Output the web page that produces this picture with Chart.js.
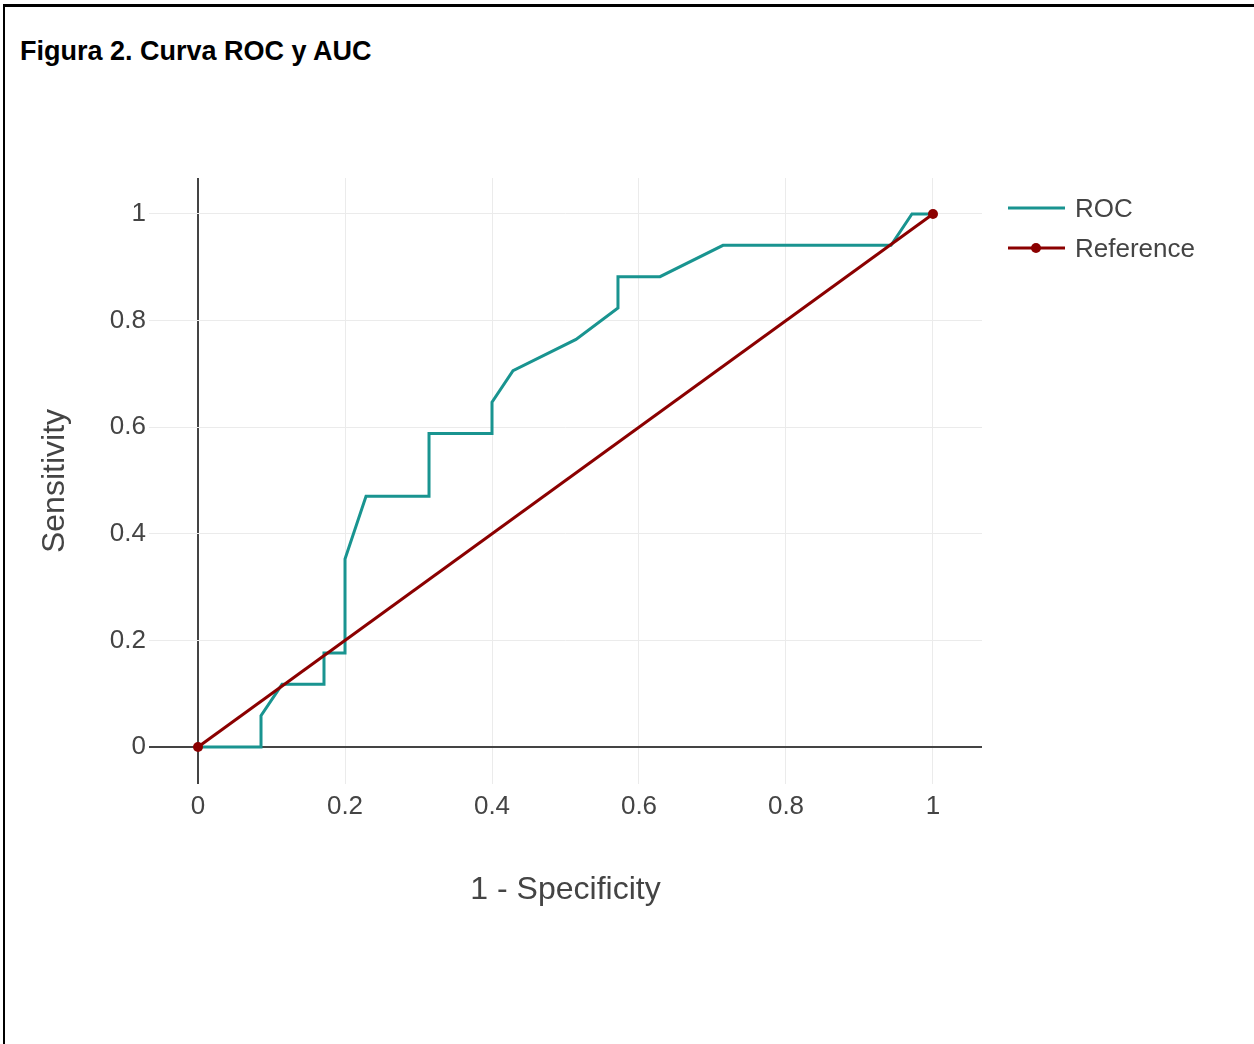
<!DOCTYPE html>
<html>
<head>
<meta charset="utf-8">
<script src="https://cdn.jsdelivr.net/npm/chart.js@4.4.1/dist/chart.umd.min.js"></script>
<style>
  body { margin: 0; background: #fff; }
  #frame { position: absolute; left: 3px; top: 4px; width: 1260px; height: 1050px;
           border-left: 2px solid #000; border-top: 3px solid #000; }
  #title { position: absolute; left: 20px; top: 36px; font: bold 27px "Liberation Sans", Arial, sans-serif; color: #000; }
  #chart { position: absolute; left: 0; top: 0; }
  #legend { position: absolute; left: 1008px; top: 188px; font: 26px "Liberation Sans", Arial, sans-serif; color: #444; }
  .item { display: flex; align-items: center; height: 40px; }
  .item svg { margin-right: 10px; }
</style>
</head>
<body>
<div id="frame"></div>
<div id="title">Figura 2. Curva ROC y AUC</div>
<canvas id="chart" width="1254" height="1044"></canvas>
<div id="legend"></div>
<script>
// ROC curve points (1 - specificity, sensitivity)
const rocX = [0, 0.0857, 0.0857, 0.1143, 0.1714, 0.1714, 0.2, 0.2, 0.2286, 0.3143, 0.3143, 0.4, 0.4, 0.4286, 0.5143, 0.5714, 0.5714, 0.6286, 0.7143, 0.9429, 0.9714, 1];
const rocY = [0, 0, 0.0588, 0.1176, 0.1176, 0.1765, 0.1765, 0.3529, 0.4706, 0.4706, 0.5882, 0.5882, 0.6471, 0.7059, 0.7647, 0.8235, 0.8824, 0.8824, 0.9412, 0.9412, 1, 1];
// reference diagonal
const refX = [0, 1];
const refY = [0, 1];

const seriesNames = ['ROC', 'Reference'];
const seriesColors = ['#199490', '#8b0000'];

const xTicks = [0, 0.2, 0.4, 0.6, 0.8, 1];
const xTickLabels = ['0', '0.2', '0.4', '0.6', '0.8', '1'];
const yTicks = [0, 0.2, 0.4, 0.6, 0.8, 1];
const yTickLabels = ['0', '0.2', '0.4', '0.6', '0.8', '1'];

const toPoints = (xs, ys) => xs.map((x, i) => ({ x: x, y: ys[i] }));

const tickFont = { family: '"Liberation Sans", Arial, sans-serif', size: 26 };
const titleFont = { family: '"Liberation Sans", Arial, sans-serif', size: 32 };
const gridColor = (ctx) => ctx.tick && ctx.tick.value === 0 ? '#444' : '#ebebeb';
const gridWidth = (ctx) => ctx.tick && ctx.tick.value === 0 ? 2 : 1;

new Chart(document.getElementById('chart'), {
  type: 'scatter',
  data: {
    datasets: [
      {
        label: seriesNames[1],
        data: toPoints(refX, refY),
        showLine: true,
        borderColor: seriesColors[1],
        backgroundColor: seriesColors[1],
        borderWidth: 3,
        pointRadius: 5,
        pointBorderWidth: 0,
        order: 0
      },
      {
        label: seriesNames[0],
        data: toPoints(rocX, rocY),
        showLine: true,
        borderColor: seriesColors[0],
        backgroundColor: seriesColors[0],
        borderWidth: 3,
        pointRadius: 0,
        order: 1
      }
    ]
  },
  options: {
    responsive: false,
    animation: false,
    layout: { padding: { left: 35.8, top: 178, right: 272, bottom: 134.8 } },
    plugins: { legend: { display: false }, tooltip: { enabled: false } },
    scales: {
      x: {
        type: 'linear',
        min: -0.0667,
        max: 1.0667,
        afterBuildTicks: (s) => { s.ticks = xTicks.map(v => ({ value: v })); },
        afterFit: (s) => { s.height = 125.2; },
        border: { display: false },
        grid: { color: gridColor, lineWidth: gridWidth, drawTicks: false },
        ticks: { font: tickFont, color: '#444', padding: 7, maxRotation: 0,
                 callback: (v, i) => xTickLabels[i] },
        title: { display: true, text: '1 - Specificity', font: titleFont, color: '#444', padding: 0 }
      },
      y: {
        type: 'linear',
        min: -0.0694,
        max: 1.0675,
        afterBuildTicks: (s) => { s.ticks = yTicks.map(v => ({ value: v })); },
        afterFit: (s) => { s.width = 113.2; },
        border: { display: false },
        grid: { color: gridColor, lineWidth: gridWidth, drawTicks: false },
        ticks: { font: tickFont, color: '#444', padding: 3,
                 callback: (v, i) => yTickLabels[i] },
        title: { display: true, text: 'Sensitivity', font: titleFont, color: '#444', padding: 0 }
      }
    }
  }
});

// legend
const legend = document.getElementById('legend');
seriesNames.forEach((name, i) => {
  const item = document.createElement('div');
  item.className = 'item';
  const dot = i === 1 ? '<circle cx="28" cy="10" r="5" fill="' + seriesColors[i] + '"/>' : '';
  item.innerHTML = '<svg width="57" height="20"><line x1="0" y1="10" x2="57" y2="10" stroke="' +
    seriesColors[i] + '" stroke-width="3"/>' + dot + '</svg><span>' + name + '</span>';
  legend.appendChild(item);
});
</script>
</body>
</html>
